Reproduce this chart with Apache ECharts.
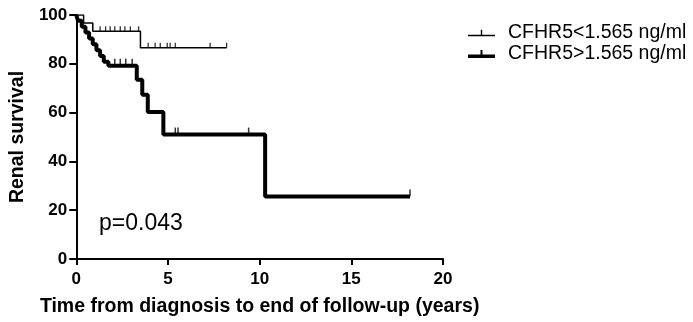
<!DOCTYPE html>
<html><head><meta charset="utf-8">
<script src="https://cdn.jsdelivr.net/npm/echarts@6/dist/echarts.min.js"></script>
<style>html,body{margin:0;padding:0;background:#fff}#c{width:693px;height:322px}</style>
</head><body><div id="c"></div>
<script>
// Kaplan-Meier step data (time in years, survival %)
var lowName = 'CFHR5<1.565 ng/ml';
var lowTimes = [0, 0.4, 0.9, 3.5, 8.2];
var lowSurv  = [100, 96.7, 93.3, 86.6, 86.6];
var lowCensor = [1.3, 1.6, 1.85, 2.1, 2.4, 2.65, 2.95, 3.4, 3.92, 4.3, 4.58, 4.96, 5.12, 5.4, 7.3, 8.2];

var highName = 'CFHR5>1.565 ng/ml';
var highTimes = [0, 0.1, 0.3, 0.5, 0.7, 0.9, 1.1, 1.3, 1.5, 1.75, 3.3, 3.6, 3.9, 4.75, 10.3, 18.2];
var highSurv  = [100, 97.6, 95.2, 92.8, 90.4, 88, 85.6, 83.2, 80.8, 79.2, 73.5, 67.3, 60.2, 51, 25.6, 25.6];
var highCensor = [2.1, 2.4, 2.7, 3.05, 5.4, 5.55, 9.4, 18.2];

var xTicks = [0, 5, 10, 15, 20];
var yTicks = [0, 20, 40, 60, 80, 100];
var pText = 'p=0.043';

function pairs(t, s) { return t.map(function (v, i) { return [v, s[i]]; }); }
function survAt(t, s, x) { var v = s[0]; for (var i = 0; i < t.length; i++) { if (t[i] <= x) v = s[i]; } return v; }
function censorPts(c, t, s) { return c.map(function (x) { return [x, survAt(t, s, x)]; }); }

var FONT = 'Liberation Sans, Arial, sans-serif';
var chart = echarts.init(document.getElementById('c'), null, { renderer: 'canvas' });
chart.setOption({
  animation: false,
  backgroundColor: '#fff',
  grid: { left: 76, right: 250, top: 15, bottom: 63, containLabel: false },
  legend: {
    orient: 'vertical', left: 463, top: 18, itemGap: 1,
    itemWidth: 27, itemHeight: 9,
    textStyle: { fontFamily: FONT, fontSize: 19.5, color: '#000', padding: [0, 0, 0, 8] },
    data: [
      { name: lowName, icon: 'path://M0,7H27V8.5H0Z M12.8,2H14.2V8.5H12.8Z' },
      { name: highName, icon: 'path://M0,5.5H27V9H0Z M12.5,1H14.5V9H12.5Z' }
    ]
  },
  xAxis: {
    type: 'value', min: 0, max: 20, interval: 5,
    name: 'Time from diagnosis to end of follow-up (years)',
    nameLocation: 'middle', nameGap: 38,
    nameTextStyle: { fontFamily: FONT, fontSize: 19.5, fontWeight: 'bold', color: '#000' },
    axisLine: { lineStyle: { color: '#000', width: 2 } },
    axisTick: { show: true, length: 6, lineStyle: { color: '#000', width: 2 } },
    axisLabel: { fontFamily: FONT, fontSize: 17, fontWeight: 'bold', color: '#000', margin: 12,
      customValues: xTicks },
    splitLine: { show: false }
  },
  yAxis: {
    type: 'value', min: 0, max: 100, interval: 20,
    name: 'Renal survival',
    nameLocation: 'middle', nameGap: 47,
    nameTextStyle: { fontFamily: FONT, fontSize: 19.5, fontWeight: 'bold', color: '#000' },
    axisLine: { show: true, lineStyle: { color: '#000', width: 2 } },
    axisTick: { show: true, length: 7, lineStyle: { color: '#000', width: 2 } },
    axisLabel: { fontFamily: FONT, fontSize: 17, fontWeight: 'bold', color: '#000', margin: 9,
      customValues: yTicks },
    splitLine: { show: false }
  },
  graphic: [{
    type: 'text', left: 99, top: 212,
    style: { text: pText, fontFamily: FONT, fontSize: 23, fill: '#000' }
  }],
  series: [
    { name: lowName, type: 'line', step: 'end', data: pairs(lowTimes, lowSurv),
      showSymbol: false, lineStyle: { color: '#000', width: 1.5 }, itemStyle: { color: '#000' } },
    { name: lowName, type: 'scatter', data: censorPts(lowCensor, lowTimes, lowSurv),
      symbol: 'rect', symbolSize: [1.3, 5], symbolOffset: [0, -2.5], itemStyle: { color: '#000' } },
    { name: highName, type: 'line', step: 'end', data: pairs(highTimes, highSurv),
      showSymbol: false, lineStyle: { color: '#000', width: 4 }, itemStyle: { color: '#000' } },
    { name: highName, type: 'scatter', data: censorPts(highCensor, highTimes, highSurv),
      symbol: 'rect', symbolSize: [1.5, 7], symbolOffset: [0, -3.5], itemStyle: { color: '#000' } }
  ]
});
</script></body></html>
